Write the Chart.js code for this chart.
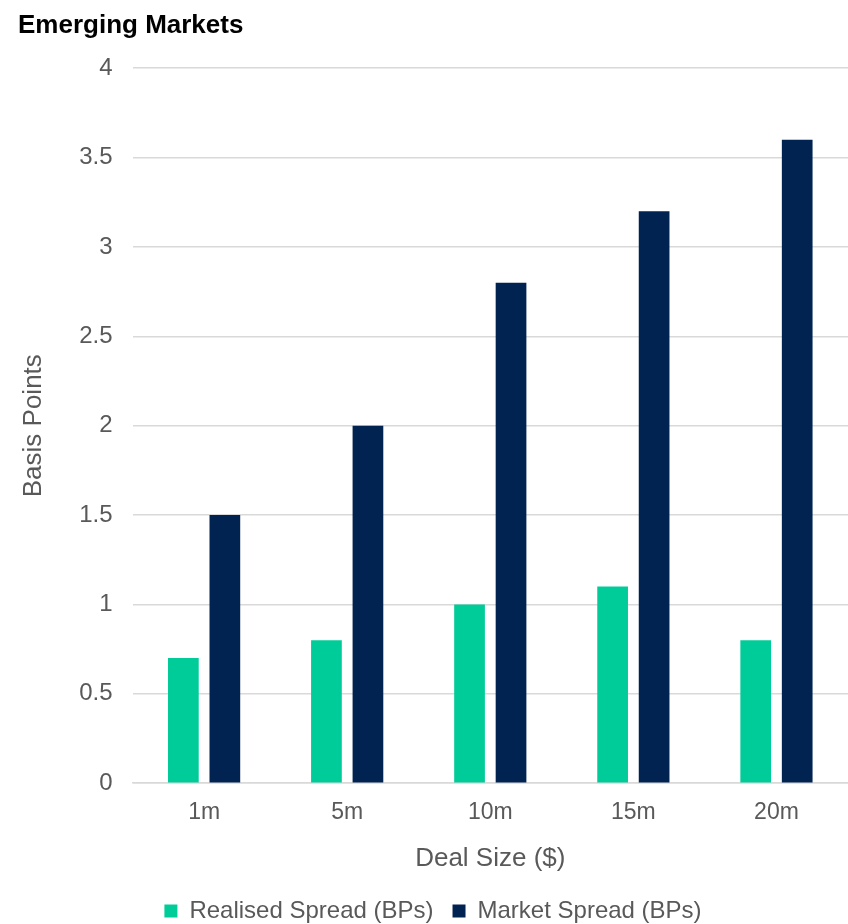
<!DOCTYPE html>
<html>
<head>
<meta charset="utf-8">
<script src="https://cdn.jsdelivr.net/npm/chart.js@4"></script>
<style>
  html, body { margin: 0; padding: 0; background: #fff; }
  #wrap { width: 848px; height: 924px; }
</style>
</head>
<body>
<div id="wrap"><canvas id="myChart"></canvas></div>
<script>
const categories = ['1m', '5m', '10m', '15m', '20m'];
const realisedSpread = [0.7, 0.8, 1.0, 1.1, 0.8];
const marketSpread = [1.5, 2.0, 2.8, 3.2, 3.6];

const grey = '#595959';
const font = 'Arial, "Liberation Sans", sans-serif';

var ctx = document.getElementById('myChart').getContext('2d');
var myChart = new Chart(ctx, {
	type: 'bar',
	data: {
		labels: categories,
		datasets: [
			{
				label: 'Realised Spread (BPs)',
				data: realisedSpread,
				backgroundColor: '#00CC99',
				barPercentage: 0.74,
				categoryPercentage: 0.58
			},
			{
				label: 'Market Spread (BPs)',
				data: marketSpread,
				backgroundColor: '#002352',
				barPercentage: 0.74,
				categoryPercentage: 0.58
			}
		]
	},
	options: {
		responsive: true,
		maintainAspectRatio: false,
		animation: false,
		layout: { padding: { left: 18, right: 0, top: 10, bottom: -9 } },
		plugins: {
			title: {
				display: true,
				text: 'Emerging Markets',
				align: 'start',
				color: '#000',
				font: { family: font, size: 26, weight: 'bold' },
				padding: { top: 0, bottom: 27 }
			},
			legend: {
				position: 'bottom',
				labels: {
					color: grey,
					font: { family: font, size: 24 },
					boxWidth: 13,
					boxHeight: 13,
					padding: 19
				}
			},
			tooltip: { enabled: false }
		},
		scales: {
			x: {
				grid: { display: false },
				border: { display: true, color: '#d9d9d9', width: 1.5 },
				ticks: { color: grey, font: { family: font, size: 23 }, padding: 8 },
				title: {
					display: true,
					text: 'Deal Size ($)',
					color: grey,
					font: { family: font, size: 26 },
					padding: { top: 8, bottom: 6 }
				}
			},
			y: {
				min: 0,
				max: 4,
				ticks: {
					stepSize: 0.5,
					color: grey,
					font: { family: font, size: 24 },
					padding: 20,
					callback: v => String(v)
				},
				grid: { color: '#d9d9d9', lineWidth: 1.5, drawTicks: false },
				border: { display: false },
				title: {
					display: true,
					text: 'Basis Points',
					color: grey,
					font: { family: font, size: 26 },
					padding: { top: 0, bottom: 10 }
				}
			}
		}
	}
});
</script>
</body>
</html>
